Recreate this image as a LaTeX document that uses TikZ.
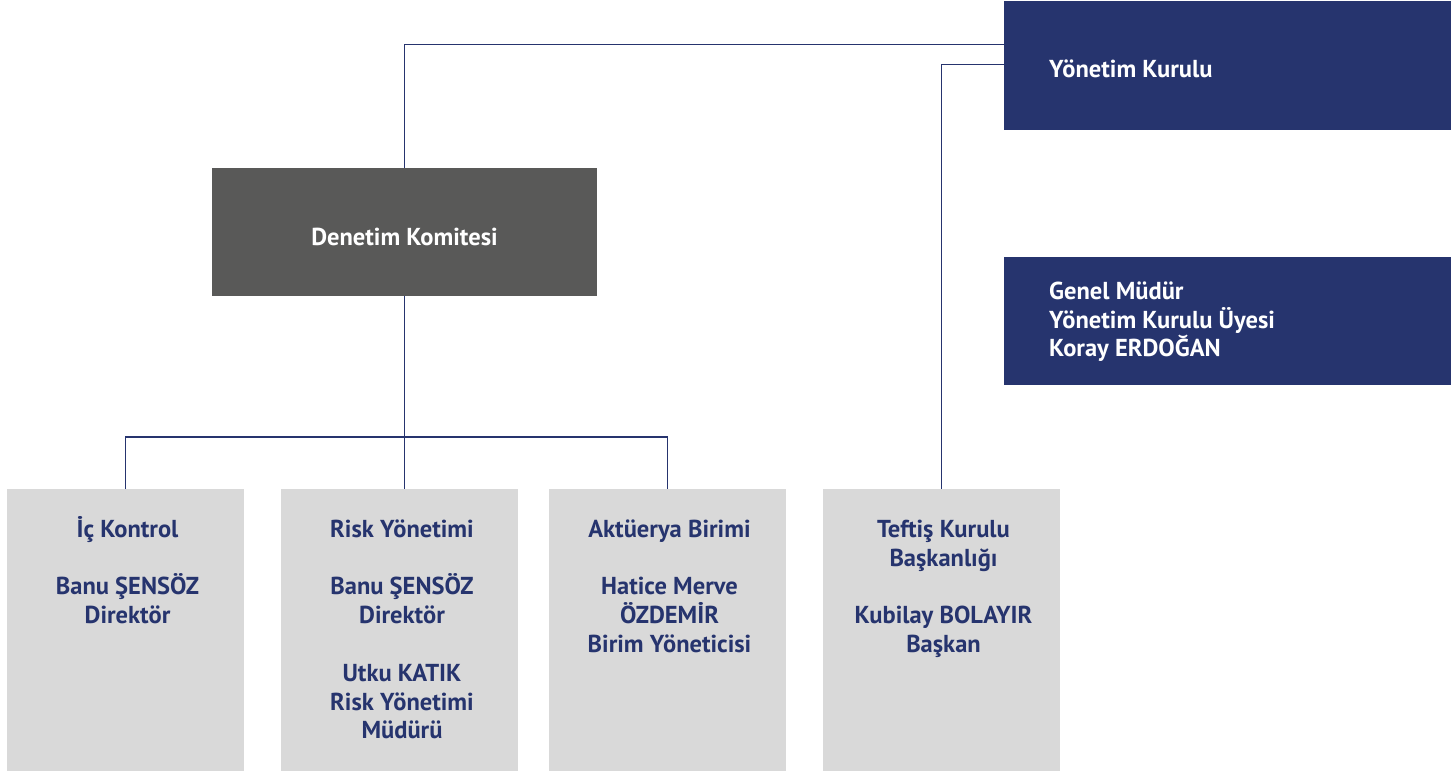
\documentclass[tikz,border=0pt]{standalone}
\usepackage{fontspec}
\setmainfont{PT Sans}
\definecolor{navy}{RGB}{38,52,110}
\definecolor{darkbox}{RGB}{89,89,88}
\definecolor{lightbox}{RGB}{217,217,217}
\begin{document}
\begin{tikzpicture}[x=1pt,y=-1pt,
  navybox/.style={fill=navy,draw=none,inner sep=0pt,outer sep=0pt},
  darkrect/.style={fill=darkbox,draw=none,inner sep=0pt,outer sep=0pt},
  lightrect/.style={fill=lightbox,draw=none,inner sep=0pt,outer sep=0pt},
  txt/.style={inner sep=0pt,font={\fontsize{24.5}{28.8}\selectfont\bfseries}},
  wtxt/.style={txt,text=white},
  ntxt/.style={txt,text=navy,align=center,anchor=north},
  conn/.style={draw=navy,line width=1.3pt}]
\useasboundingbox (0,0) rectangle (1451,774);
% boxes
\node[navybox,minimum width=447pt,minimum height=129pt] (yk) at (1227.5,65.5) {};
\node[navybox,minimum width=447pt,minimum height=128pt] (gm) at (1227.5,321) {};
\node[darkrect,minimum width=385pt,minimum height=128pt] (dk) at (404.5,232) {};
\node[lightrect,minimum width=237pt,minimum height=282pt] (ic) at (125.5,630) {};
\node[lightrect,minimum width=237pt,minimum height=282pt] (rk) at (399.5,630) {};
\node[lightrect,minimum width=237pt,minimum height=282pt] (ak) at (667.5,630) {};
\node[lightrect,minimum width=237pt,minimum height=282pt] (tk) at (941.5,630) {};
% texts
\node[wtxt,anchor=base west] (yk-t) at (1049,77) {Yönetim Kurulu};
\node[wtxt,align=left,anchor=north west] (gm-t) at (1049,274) {\rule{0pt}{25pt}Genel Müdür\\Yönetim Kurulu Üyesi\\Koray ERDOĞAN};
\node[wtxt,anchor=base] (dk-t) at (404.5,245.5) {Denetim Komitesi};
\node[ntxt] (ic-t) at (127.5,512) {\rule{0pt}{25pt}İç Kontrol\\[28.8pt]Banu ŞENSÖZ\\Direktör};
\node[ntxt] (rk-t) at (402,512) {\rule{0pt}{25pt}Risk Yönetimi\\[28.8pt]Banu ŞENSÖZ\\Direktör\\[28.8pt]Utku KATIK\\Risk Yönetimi\\Müdürü};
\node[ntxt] (ak-t) at (669.5,512) {\rule{0pt}{25pt}Aktüerya Birimi\\[28.8pt]Hatice Merve\\ÖZDEMİR\\Birim Yöneticisi};
\node[ntxt] (tk-t) at (943.5,512) {\rule{0pt}{25pt}Teftiş Kurulu\\Başkanlığı\\[28.8pt]Kubilay BOLAYIR\\Başkan};
% connectors
\coordinate (bus) at (404.5,437);
\draw[conn] ([yshift=21pt]yk.west) -| (dk.north);
\draw[conn] ([yshift=1pt]yk.west) -| (tk.north);
\draw[conn] (dk.south) -- (bus);
\draw[conn] (ic.north) |- (bus) -| (ak.north);
\draw[conn] (bus) -- (bus |- rk.north);
\end{tikzpicture}
\end{document}
